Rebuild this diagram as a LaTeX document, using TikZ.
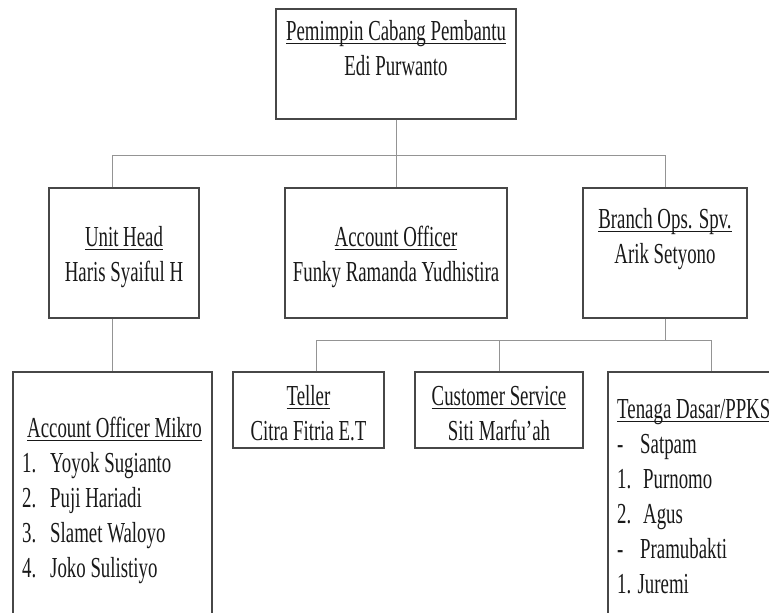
\documentclass[tikz,border=0pt]{standalone}
\usepackage{fontspec}
\setmainfont{Liberation Serif}[FakeStretch=0.65]
\usepackage{tikz}
\tikzset{
    x=1pt, y=-1pt, % one unit per pixel of the chart, y runs downwards
    box/.style={draw=black!72, line width=1.3pt}, % sets the frame of each box
    link/.style={draw=black!42, line width=0.9pt}, % lines between the boxes
    label/.style={font=\fontsize{29}{35}\selectfont, text=black!90, inner sep=0pt, anchor=north, align=center}, % text in the boxes
}
\newcommand{\uln}[1]{\setbox0\hbox{#1}\rlap{\rule[-4pt]{\wd0}{1.4pt}}\box0}

\begin{document}
\begin{tikzpicture}
    \useasboundingbox (0,0) rectangle (769,613);
    \clip (0,0) rectangle (769,613);
    % boxes
    \node[box, minimum width=240, minimum height=110] (top) at (396,64) {};
    \node[box, minimum width=150, minimum height=130] (unit) at (124,253) {};
    \node[box, minimum width=222, minimum height=130] (ao) at (396,253) {};
    \node[box, minimum width=164, minimum height=130] (bos) at (665,253) {};
    \node[box, minimum width=199, minimum height=260] (aom) at (112.5,502) {};
    \node[box, minimum width=151, minimum height=76] (tel) at (308.5,410) {};
    \node[box, minimum width=168, minimum height=76] (cs) at (499,410) {};
    \node[box, minimum width=206, minimum height=260] (ten) at (711,502) {};
    % texts
    \node[label] (topT) at (396,15.5) {\strut\uln{Pemimpin Cabang Pembantu}\\Edi Purwanto};
    \node[label] (unitT) at (124,221.5) {\strut\uln{Unit Head}\\Haris Syaiful H};
    \node[label] (aoT) at (396,221.5) {\strut\uln{Account Officer}\\Funky Ramanda Yudhistira};
    \node[label] (bosT) at (665,203.5) {\strut\uln{Branch Ops. Spv.}\\Arik Setyono};
    \node[label, anchor=north west, align=left] (aomT) at (22,412.5) {\strut\hspace*{5pt}\uln{Account Officer Mikro}\\
        \makebox[28pt][l]{1.}Yoyok Sugianto\\
        \makebox[28pt][l]{2.}Puji Hariadi\\
        \makebox[28pt][l]{3.}Slamet Waloyo\\
        \makebox[28pt][l]{4.}Joko Sulistiyo};
    \node[label] (telT) at (308.5,380.5) {\strut\uln{Teller}\\Citra Fitria E.T};
    \node[label] (csT) at (499,380.5) {\strut\uln{Customer Service}\\Siti Marfu’ah};
    \node[label, anchor=north west, align=left] (tenT) at (617,393.5) {\strut\uln{Tenaga Dasar/PPKS}\\
        \makebox[23pt][l]{-}Satpam\\
        \makebox[26pt][l]{1.}Purnomo\\
        \makebox[26pt][l]{2.}Agus\\
        \makebox[23pt][l]{-}Pramubakti\\
        1. Juremi};
    % connectors
    \coordinate (bus1) at (0,155);
    \coordinate (bus2) at (0,340);
    \draw[link] (top.south) -- (ao.north);
    \draw[link] (aom.north |- unit.north) |- (bos.north |- bus1) -- (bos.north);
    \draw[link] (aom.north |- unit.south) -- (aom.north);
    \draw[link] (bos.south) -- (bos.south |- bus2);
    \draw[link] ([xshift=7.5]tel.north) |- (ten.north |- bus2) -- (ten.north);
    \draw[link] (cs.north) -- (cs.north |- bus2);
\end{tikzpicture}
\end{document}
